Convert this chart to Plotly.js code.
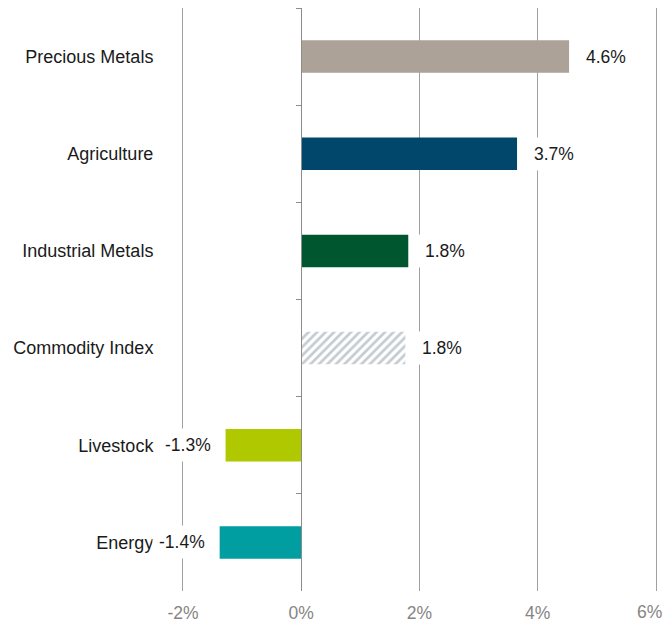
<!DOCTYPE html>
<html>
<head>
<meta charset="utf-8">
<script src="https://cdn.plot.ly/plotly-3.0.1.min.js"></script>
<style>html,body{margin:0;padding:0;background:#fff;}#chart{width:665px;height:624px;}</style>
</head>
<body>
<div id="chart"></div>
<script>
// Data (display order, top to bottom)
var categories = ["Precious Metals", "Agriculture", "Industrial Metals", "Commodity Index", "Livestock", "Energy"];
var values = [4.53, 3.65, 1.81, 1.76, -1.28, -1.38];
var valueLabels = ["4.6%", "3.7%", "1.8%", "1.8%", "-1.3%", "-1.4%"];
var barColors = ["#ADA297", "#00476B", "#00572F", "#C4CBD0", "#B0C800", "#009EA0"];
var hatched = [false, false, false, true, false, false];
var xTickVals = [-2, 0, 2, 4, 6];
var xTickText = ["-2%", "0%", "2%", "4%", "6%"];

var tickFont = {family: "Liberation Sans, Arial, sans-serif", size: 17.5, color: "#858585"};
var lastTick = xTickVals.length - 1;

var solidBars = {
  type: "bar",
  orientation: "h",
  y: categories,
  x: values.map(function(v, i){ return hatched[i] ? null : v; }),
  width: 0.335,
  marker: {color: barColors, line: {width: 0}},
  hoverinfo: "skip",
  xaxis: "x",
  yaxis: "y"
};

var hatchBars = {
  type: "bar",
  orientation: "h",
  y: categories,
  x: values.map(function(v, i){ return hatched[i] ? v : null; }),
  width: 0.335,
  marker: {
    color: barColors,
    line: {width: 0},
    pattern: {
      shape: "/",
      fgcolor: "#C4CBD0",
      bgcolor: "#EDF0F1",
      size: 6,
      solidity: 0.45,
      fillmode: "replace"
    }
  },
  hoverinfo: "skip",
  xaxis: "x",
  yaxis: "y"
};

var axisHelper = {
  type: "scatter",
  mode: "markers",
  y: categories,
  x: categories.map(function(){ return 0; }),
  marker: {opacity: 0, size: 1},
  hoverinfo: "skip",
  showlegend: false,
  xaxis: "x",
  yaxis: "y2"
};

var annotations = categories.map(function(c, i) {
  var pos = values[i] >= 0;
  return {
    x: values[i],
    y: c,
    xref: "x",
    yref: "y",
    text: valueLabels[i],
    showarrow: false,
    xanchor: pos ? "left" : "right",
    yanchor: "middle",
    xshift: pos ? 10 : -8,
    bgcolor: "#FFFFFF",
    borderpad: 6,
    font: {family: "Liberation Sans, Arial, sans-serif", size: 17.5, color: "#1A1A1A"}
  };
});
// last x tick label, pulled inward so it stays inside the picture
annotations.push({
  x: xTickVals[lastTick],
  y: 0,
  xref: "x",
  yref: "paper",
  text: xTickText[lastTick],
  showarrow: false,
  xanchor: "right",
  yanchor: "middle",
  xshift: 8,
  yshift: -21,
  font: tickFont
});

var layout = {
  width: 665,
  height: 624,
  margin: {l: 183, r: 9, t: 8, b: 33},
  paper_bgcolor: "#FFFFFF",
  plot_bgcolor: "#FFFFFF",
  showlegend: false,
  barmode: "overlay",
  xaxis: {
    range: [-2.0001, 6.0001],
    tickvals: xTickVals,
    ticktext: xTickText.map(function(t, i){ return i === lastTick ? "" : t; }),
    showgrid: true,
    gridcolor: "#A0A0A0",
    gridwidth: 1,
    zeroline: false,
    showline: false,
    ticks: "",
    ticklabelstandoff: 9,
    tickfont: tickFont,
    fixedrange: true
  },
  yaxis: {
    type: "category",
    autorange: "reversed",
    showgrid: false,
    zeroline: false,
    showline: true,
    mirror: true,
    linecolor: "#A0A0A0",
    linewidth: 1,
    ticks: "",
    ticklabelstandoff: 25,
    tickfont: {family: "Liberation Sans, Arial, sans-serif", size: 18, color: "#1A1A1A"},
    fixedrange: true
  },
  yaxis2: {
    type: "category",
    overlaying: "y",
    matches: "y",
    anchor: "free",
    position: 0.25,
    side: "left",
    showgrid: false,
    zeroline: false,
    showline: true,
    linecolor: "#8C8C8C",
    linewidth: 1,
    ticks: "outside",
    tickson: "boundaries",
    ticklen: 5,
    tickcolor: "#8C8C8C",
    showticklabels: false,
    fixedrange: true
  },
  annotations: annotations
};

Plotly.newPlot("chart", [solidBars, hatchBars, axisHelper], layout, {displayModeBar: false, staticPlot: true});
</script>
</body>
</html>
